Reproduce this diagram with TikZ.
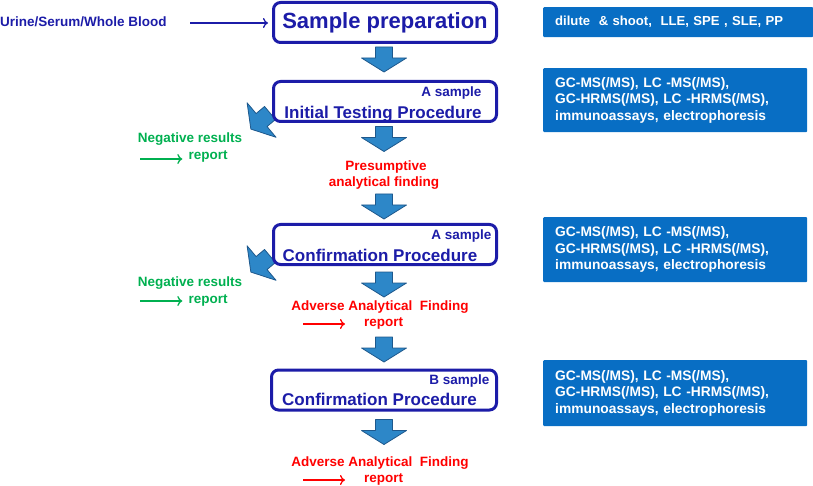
\documentclass[tikz,border=0pt]{standalone}
\usepackage{fontspec}
\setmainfont{Liberation Sans}
\usepackage{tikz}
\usetikzlibrary{positioning,arrows.meta}

\definecolor{boxblue}{RGB}{28,28,168}
\definecolor{infoblue}{RGB}{8,110,196}
\definecolor{arrowfill}{RGB}{45,135,200}
\definecolor{arrowedge}{RGB}{30,88,140}
\definecolor{negcol}{RGB}{0,176,80}
\definecolor{aafcol}{RGB}{255,0,0}

\tikzset{
  procbox/.style={draw=boxblue, fill=white, line width=3pt, rounded corners=7pt,
    minimum width=223pt, minimum height=40pt, inner sep=0pt},
  proctitle/.style={text=boxblue, font=\fontsize{17}{20}\selectfont\bfseries, inner sep=0pt},
  samptag/.style={text=boxblue, font=\fontsize{13.5}{16}\selectfont\bfseries, inner sep=0pt},
  infobox/.style={fill=infoblue, rounded corners=1pt, text=white, align=left,
    font=\fontsize{13.8}{16.5}\selectfont\bfseries, inner xsep=12pt, anchor=north west,
    text width=240pt},
  negtext/.style={text=negcol, font=\fontsize{13.5}{16}\selectfont\bfseries, inner sep=2pt},
  aaftext/.style={text=aafcol, font=\fontsize{13.5}{16}\selectfont\bfseries, inner sep=2pt},
  thinarrow/.style={-{To[length=5pt,width=10pt]}, line width=1.3pt},
  blockarrow/.pic={
    \filldraw[fill=arrowfill, draw=arrowedge, line width=0.8pt, line join=round]
      (-8.5,0) -- (8.5,0) -- (8.5,11) -- (22.5,11) -- (0,25)
      -- (-22.5,11) -- (-8.5,11) -- cycle;
  }
}

\begin{document}
\begin{tikzpicture}[x=1pt, y=-1pt]
  \useasboundingbox (0,0) rectangle (813,486);

  % negative branches sit behind the boxes
  \pic[rotate=-50] at (270,113) {blockarrow};
  \pic[rotate=-50] at (270,256) {blockarrow};

  % main column
  \node[procbox, text=boxblue, font=\fontsize{22}{24}\selectfont\bfseries] (prep) at (385,22.5) {Sample preparation};
  \node[procbox] (itp) at (385,101.5) {};
  \node[samptag, anchor=base east] (itptag) at ([xshift=-16.5pt, yshift=-16.5pt]itp.north east) {A sample};
  \node[proctitle, anchor=base] (itptitle) at ([xshift=-2pt, yshift=4.5pt]itp.south) {Initial Testing Procedure};

  \node[procbox] (confa) at (385,244.5) {};
  \node[samptag, anchor=base east] (confatag) at ([xshift=-6.5pt, yshift=-16.5pt]confa.north east) {A sample};
  \node[proctitle, anchor=base] (confatitle) at ([xshift=-5pt, yshift=4.5pt]confa.south) {Confirmation Procedure};

  \node[procbox, minimum width=225pt] (confb) at (384,390) {};
  \node[samptag, anchor=base east] (confbtag) at ([xshift=-8.5pt, yshift=-16pt]confb.north east) {B sample};
  \node[proctitle, anchor=base] (confbtitle) at ([xshift=-4.5pt, yshift=6pt]confb.south) {Confirmation Procedure};

  % input
  \node[text=boxblue, font=\fontsize{13.5}{16}\selectfont\bfseries, anchor=west, inner sep=0pt] (urine) at (0,22) {Urine/Serum/Whole Blood};
  \coordinate (urinetail) at (190,23);
  \draw[thinarrow, boxblue] (urinetail) -- ([xshift=-4pt]prep.west |- urinetail);

  % block arrows down the column
  \pic at (384,47) {blockarrow};
  \pic at (384,126.5) {blockarrow};
  \pic at (384,194) {blockarrow};
  \pic at (384,272) {blockarrow};
  \pic at (384,337) {blockarrow};
  \pic at (384,419.5) {blockarrow};

  % findings
  \node[aaftext] (pres) at (386,167) {Presumptive};
  \node[aaftext] (presb) at (384,183) {analytical finding};

  \node[aaftext] (aafa) at (380,307) {Adverse Analytical\ \ Finding};
  \node[aaftext] (aafarep) at (383.5,323) {report};
  \coordinate (aafatail) at (303,324);
  \coordinate (aafahead) at (345,324);
  \draw[thinarrow, aafcol] (aafatail) -- (aafahead);

  \node[aaftext] (aafb) at (380,463) {Adverse Analytical\ \ Finding};
  \node[aaftext] (aafbrep) at (383.5,479) {report};
  \coordinate (aafbtail) at (303,480);
  \coordinate (aafbhead) at (345,480);
  \draw[thinarrow, aafcol] (aafbtail) -- (aafbhead);

  % negative results
  \node[negtext] (nega) at (190,139) {Negative results};
  \node[negtext] (negarep) at (208,156) {report};
  \coordinate (negatail) at (140,159);
  \draw[thinarrow, negcol, shorten >=4pt] (negatail) -- (negarep.west |- negatail);

  \node[negtext] (negb) at (190,283) {Negative results};
  \node[negtext] (negbrep) at (208,300) {report};
  \coordinate (negbtail) at (140,301);
  \draw[thinarrow, negcol, shorten >=4pt] (negbtail) -- (negbrep.west |- negbtail);

  % methods
  \node[infobox, text width=246pt, minimum height=30pt, font=\fontsize{13.1}{16}\selectfont\bfseries] (prepinfo) at (543,7) {dilute \ \& shoot,\ \ LLE, SPE , SLE, PP};
  \node[infobox, minimum height=64pt] (itpinfo) at (543,68)
    {GC-MS(/MS), LC -MS(/MS),\\GC-HRMS(/MS), LC -HRMS(/MS),\\immunoassays, electrophoresis};
  \node[infobox, minimum height=65pt] (confainfo) at (543,217)
    {GC-MS(/MS), LC -MS(/MS),\\GC-HRMS(/MS), LC -HRMS(/MS),\\immunoassays, electrophoresis};
  \node[infobox, minimum height=66pt] (confbinfo) at (543,360)
    {GC-MS(/MS), LC -MS(/MS),\\GC-HRMS(/MS), LC -HRMS(/MS),\\immunoassays, electrophoresis};
\end{tikzpicture}
\end{document}
